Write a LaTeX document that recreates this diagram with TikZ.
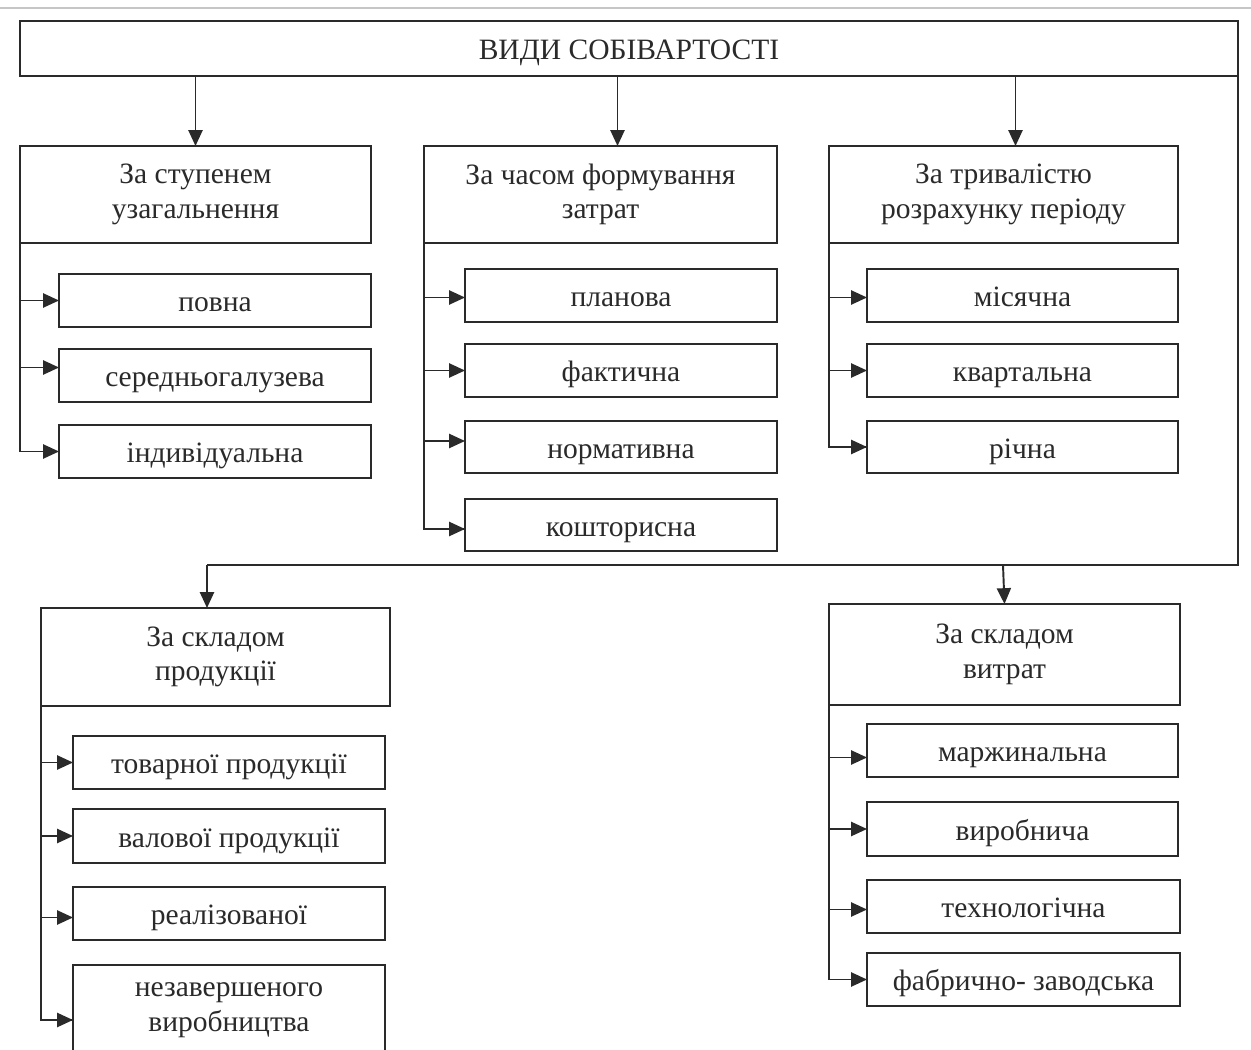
\documentclass[tikz,border=0pt]{standalone}
\usepackage{fontspec}
\setmainfont{Liberation Serif}
\usetikzlibrary{arrows.meta,calc}
\definecolor{ink}{HTML}{2A2A2A}
\newcommand\bx[6]{\node[box, minimum width={(#4-#2)*0.02cm}, minimum height={(#5-#3)*0.02cm}] (#1) at ({(#2+#4)/2},{(#3+#5)/2}) {#6};}
\newcommand\bxx[6]{\node[boxtwo, minimum width={(#4-#2)*0.02cm}, minimum height={(#5-#3)*0.02cm}] (#1) at ({(#2+#4)/2},{(#3+#5)/2}) {#6};}
\begin{document}
\begin{tikzpicture}[x=0.02cm,y=-0.02cm,
  boxbase/.style={draw=ink, line width=1pt, inner sep=0pt, outer sep=0pt, text=ink, font=\fontsize{16.8}{19.8}\selectfont},
  box/.style={boxbase, text height=14.6pt, text depth=2pt},
  boxtwo/.style={boxbase, align=center},
  conn/.style={draw=ink, line width=1.1pt},
  arr/.style={conn, -{Triangle[length=9pt,width=8pt]}}]
\fill[white] (0,0) rectangle (1251,1050);
\useasboundingbox (0,0) rectangle (1251,1050);
\clip (0,0) rectangle (1251,1050);
\draw[gray!45, line width=1.2pt] (0,8) -- (1251,8);
% top
\bx{top}{20}{21}{1238}{76}{ВИДИ СОБІВАРТОСТІ}
% level 2
\bxx{b1}{20}{146}{371}{243}{За ступенем\\узагальнення}
\bxx{b2}{424}{146}{777}{243}{За часом формування\\затрат}
\bxx{b3}{829}{146}{1178}{243}{За тривалістю\\розрахунку періоду}
% children b1
\bx{c11}{59}{274}{371}{327}{повна}
\bx{c12}{59}{349}{371}{402}{середньогалузева}
\bx{c13}{59}{425}{371}{478}{індивідуальна}
% children b2
\bx{c21}{465}{269}{777}{322}{планова}
\bx{c22}{465}{344}{777}{397}{фактична}
\bx{c23}{465}{421}{777}{473}{нормативна}
\bx{c24}{465}{499}{777}{551}{кошторисна}
% children b3
\bx{c31}{867}{269}{1178}{322}{місячна}
\bx{c32}{867}{344}{1178}{397}{квартальна}
\bx{c33}{867}{421}{1178}{473}{річна}
% level 2 bottom
\bxx{b4}{41}{608}{390}{706}{За складом\\продукції}
\bxx{b5}{829}{604}{1180}{705}{За складом\\витрат}
\bx{c41}{73}{736}{385}{789}{товарної продукції}
\bx{c42}{73}{809}{385}{863}{валової продукції}
\bx{c43}{73}{887}{385}{940}{реалізованої}
\bxx{c44}{73}{965}{385}{1055}{незавершеного\\виробництва}
\bx{c51}{867}{724}{1178}{777}{маржинальна}
\bx{c52}{867}{802}{1178}{856}{виробнича}
\bx{c53}{867}{880}{1180}{933}{технологічна}
\bx{c54}{867}{953}{1180}{1006}{фабрично- заводська}
% top arrows
\coordinate (a1) at (b1.north);
\coordinate (a2) at ([xshift=0.34cm]b2.north);
\coordinate (a3) at ([xshift=0.24cm]b3.north);
\draw[arr] (top.south -| a1) -- (a1);
\draw[arr] (top.south -| a2) -- (a2);
\draw[arr] (top.south -| a3) -- (a3);
% trees
\draw[conn] (b1.south west) |- (c13.west);
\draw[arr] (b1.south west |- c11.west) -- (c11.west);
\draw[arr] ([yshift=0.16cm]b1.south west |- c12.west) -- ([yshift=0.16cm]c12.west);
\draw[arr] (b1.south west |- c13.west) -- (c13.west);
\draw[conn] (b2.south west) |- ([yshift=-0.08cm]c24.west);
\draw[arr] ([yshift=-0.04cm]b2.south west |- c21.west) -- ([yshift=-0.04cm]c21.west);
\draw[arr] (b2.south west |- c22.west) -- (c22.west);
\draw[arr] ([yshift=0.12cm]b2.south west |- c23.west) -- ([yshift=0.12cm]c23.west);
\draw[arr] ([yshift=-0.08cm]b2.south west |- c24.west) -- ([yshift=-0.08cm]c24.west);
\draw[conn] (b3.south west) |- (c33.west);
\draw[arr] ([yshift=-0.04cm]b3.south west |- c31.west) -- ([yshift=-0.04cm]c31.west);
\draw[arr] (b3.south west |- c32.west) -- (c32.west);
\draw[arr] (b3.south west |- c33.west) -- (c33.west);
% bottom connector
\coordinate (j4) at (207,565);
\coordinate (j5) at (1003,565);
\draw[conn] (top.south east) |- (j4);
\draw[arr] (j4) -- (j4 |- b4.north);
\draw[arr] (j5) -- (b5.north);
% trees bottom
\draw[conn] (b4.south west) |- ([yshift=-0.2cm]c44.west);
\draw[arr] (b4.south west |- c41.west) -- (c41.west);
\draw[arr] (b4.south west |- c42.west) -- (c42.west);
\draw[arr] ([yshift=-0.08cm]b4.south west |- c43.west) -- ([yshift=-0.08cm]c43.west);
\draw[arr] ([yshift=-0.2cm]b4.south west |- c44.west) -- ([yshift=-0.2cm]c44.west);
\draw[conn] (b5.south west) |- (c54.west);
\draw[arr] ([yshift=-0.14cm]b5.south west |- c51.west) -- ([yshift=-0.14cm]c51.west);
\draw[arr] (b5.south west |- c52.west) -- (c52.west);
\draw[arr] ([yshift=-0.06cm]b5.south west |- c53.west) -- ([yshift=-0.06cm]c53.west);
\draw[arr] (b5.south west |- c54.west) -- (c54.west);
\end{tikzpicture}
\end{document}
